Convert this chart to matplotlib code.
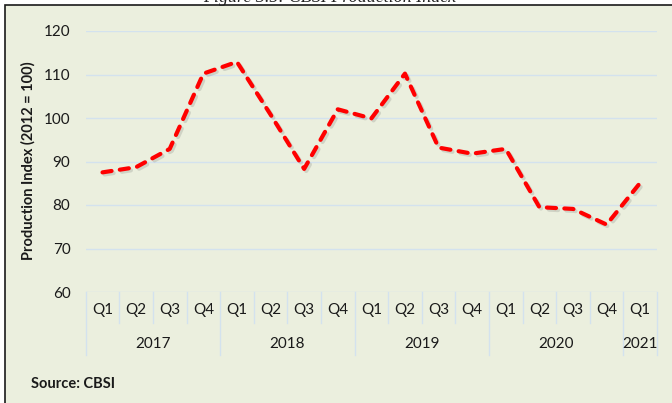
import numpy as np
import matplotlib
matplotlib.use("Agg")
import matplotlib.pyplot as plt
import matplotlib.transforms as mtransforms
import matplotlib.patheffects as pe
from matplotlib.patches import Rectangle

# quarterly production index, 2012 = 100
quarters = ['Q1', 'Q2', 'Q3', 'Q4'] * 4 + ['Q1']
years = ['2017', '2018', '2019', '2020', '2021']
year_len = [4, 4, 4, 4, 1]
index = [87.5, 88.7, 92.9, 110.2,
         112.9, 100.8, 88.3, 102.0,
         99.9, 110.2, 93.2, 91.8,
         92.9, 79.5, 79.1, 75.5,
         85.1]

plt.rcParams['font.family'] = ['Lato', 'DejaVu Sans']

bg = '#EBEFDE'
grid_c = '#D3E2EE'

fig = plt.figure(figsize=(6.72, 4.03), dpi=100, facecolor='white')

# framed background panel (left and top border visible)
panel = Rectangle((5 / 672, -0.1), 1.2, 1 - 5 / 403 + 0.1,
                  transform=fig.transFigure, facecolor=bg,
                  edgecolor='#1a1a1a', lw=1.2, zorder=-5)
fig.add_artist(panel)

# caption, cut off at the top as in the source document
fig.text(203 / 672, 1 - 2 / 403, 'Figure 3.5: CBSI Production Index',
         family='Liberation Serif', style='italic', fontsize=13,
         ha='left', va='baseline', color='#222222')

ax = fig.add_axes([85.7 / 672, 1 - 292 / 403, 571.3 / 672, 261 / 403])
ax.set_facecolor('none')

x = np.arange(len(index))
ln, = ax.plot(x, index, color='#FF0000', lw=3.0, solid_capstyle='round',
              dash_capstyle='round', zorder=3)
ln.set_dashes([2.2, 2.0])
ln.set_path_effects([pe.SimpleLineShadow(offset=(1.5, -1.5), alpha=0.18,
                                         shadow_color='#555555'),
                     pe.Normal()])

ax.set_xlim(-0.5, len(index) - 0.5)
ax.set_ylim(60, 120)
ax.set_yticks(np.arange(60, 121, 10))
ax.yaxis.grid(True, color=grid_c, lw=1.0)
ax.set_axisbelow(True)
for s in ax.spines.values():
    s.set_visible(False)

ax.set_xticks(x)
ax.set_xticklabels(quarters)
ax.tick_params(axis='x', length=0, pad=8, labelsize=11, colors='#1a1a1a')
ax.tick_params(axis='y', length=0, pad=11, labelsize=11, colors='#1a1a1a')

# category box: quarter and year separators
trans = mtransforms.blended_transform_factory(ax.transData, ax.transAxes)
starts = np.cumsum([0] + year_len)
for i in range(len(index) + 1):
    xs = i - 0.5
    depth = -0.241 if i in starts else -0.119
    ax.plot([xs, xs], [0, depth], transform=trans, color=grid_c, lw=1.0,
            clip_on=False)

for yr, s, n in zip(years, starts[:-1], year_len):
    ax.text(s + (n - 1) / 2, -0.199, yr, transform=trans, ha='center',
            va='center', fontsize=11, color='#1a1a1a')

fig.text(28 / 672, 1 - 161 / 403, 'Production Index (2012 = 100)',
         rotation=90, ha='center', va='center', fontsize=10.5,
         fontweight='bold', color='#1a1a1a')

fig.text(31 / 672, 1 - 384 / 403, 'Source: CBSI', ha='left', va='center',
         fontsize=10.5, fontweight='bold', color='#1a1a1a')

fig.savefig('out.png', dpi=100, facecolor=fig.get_facecolor())
